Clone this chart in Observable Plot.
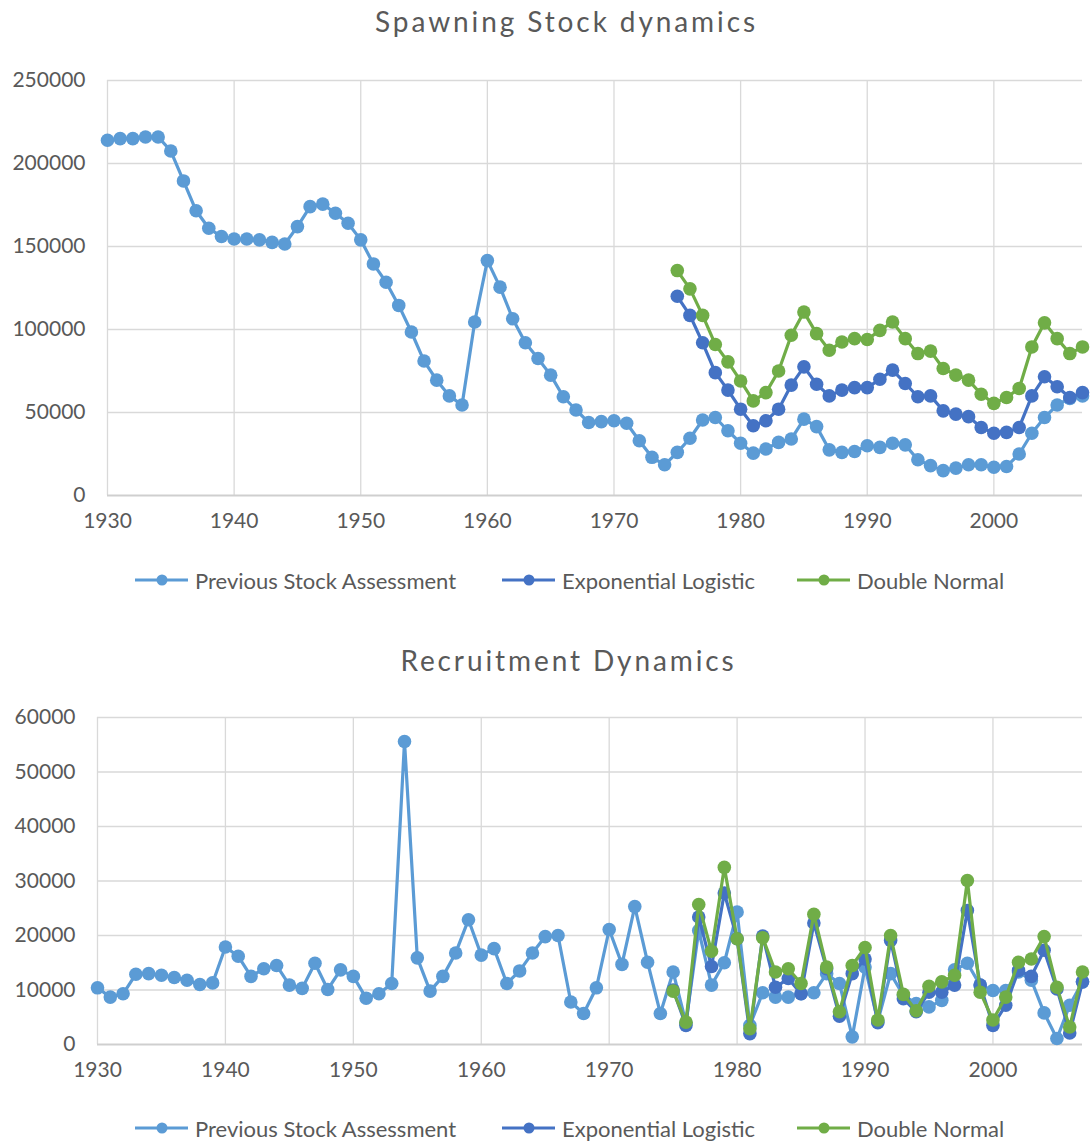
<!DOCTYPE html>
<html>
<head>
<meta charset="utf-8">
<script src="https://cdn.jsdelivr.net/npm/d3@7"></script>
<script src="https://cdn.jsdelivr.net/npm/@observablehq/plot@0.6"></script>
<style>
  html, body { margin: 0; padding: 0; background: #fff; }
  body { width: 1091px; height: 1144px; position: relative; font-family: Lato, "Open Sans", sans-serif; color: #595959; overflow: hidden; }
  .title { position: absolute; left: 0; width: 1091px; text-align: center; font-size: 28px; letter-spacing: 2.9px; white-space: nowrap; box-sizing: border-box; }
  .chart { position: absolute; left: 0; }
  .leg { position: absolute; display: flex; align-items: center; font-size: 22px; white-space: nowrap; }
  .leg svg { margin-right: 7px; }
</style>
</head>
<body>
<div class="title" id="t1" style="top:4px; padding-left:42px;">Spawning Stock dynamics</div>
<div class="chart" id="c1" style="top:50px;"></div>
<div class="title" id="t2" style="top:643px; padding-left:46px;">Recruitment Dynamics</div>
<div class="chart" id="c2" style="top:690px;"></div>
<script>
// ---------- data ----------
const seriesNames = ["Previous Stock Assessment", "Exponential Logistic", "Double Normal"];
const seriesColors = ["#5B9BD5", "#4472C4", "#70AD47"];

const prevYears = d3.range(1930, 2008);
const modelYears = d3.range(1975, 2008);
const xTicks = [1930, 1940, 1950, 1960, 1970, 1980, 1990, 2000];

// Spawning stock
const ssbPrev = [214000,215000,215000,216000,216000,207500,189500,171500,161000,156000,
  154500,154500,154000,152500,151500,162000,174000,175500,170000,164000,
  154000,139500,128500,114500,98500,81000,69500,60000,54500,104500,
  141500,125500,106500,92000,82500,72500,59500,51500,44000,44500,
  45000,43500,33000,23000,18500,26000,34500,45500,47000,39000,
  31500,25500,28000,32000,34000,46000,41500,27500,26000,26500,
  30000,29000,31500,30500,21500,18000,15000,16500,18500,18500,
  17000,17500,25000,37500,47000,54500,58500,60000];
const ssbExpo = [120000,108500,92000,74000,63500,52000,42000,45000,52000,66500,
  77500,67000,60000,63500,65000,65000,70000,75500,67500,59500,
  60000,51000,49000,47500,41000,37500,38000,41000,60000,71500,
  65500,59000,62000];
const ssbDouble = [135500,124500,108500,91000,80500,69000,57000,62000,75000,96500,
  110500,97500,87500,92500,94500,94000,99500,104500,94500,85500,
  87000,76500,72500,69500,61000,55500,59000,64500,89500,104000,
  94500,85500,89500];
const ssbTicks = [0, 50000, 100000, 150000, 200000, 250000];

// Recruitment
const recPrev = [10400,8700,9300,12900,13000,12700,12300,11800,11000,11300,
  17900,16200,12500,13900,14500,10900,10300,14900,10100,13700,
  12500,8500,9300,11200,55600,15900,9800,12500,16800,22900,
  16400,17600,11200,13500,16800,19800,20000,7800,5700,10400,
  21100,14700,25300,15100,5700,13300,4000,20900,10900,15000,
  24300,3500,9500,8700,8700,9300,9500,13000,11200,1400,
  14200,4300,13000,9000,7500,6900,8100,13700,14900,10900,
  9900,9900,13300,11800,5800,1100,7200,11500];
const recExpo = [10000,3500,23400,14300,27800,19400,2000,19900,10500,12100,
  9300,22300,13900,5200,13000,15700,4000,19100,8400,6000,
  9600,9600,10900,24600,10900,3500,7200,13600,12500,17300,
  10200,2100,11500];
const recDouble = [9800,4100,25700,17100,32500,19400,2900,19600,13300,13900,
  11200,23900,14200,6000,14500,17800,4500,20000,9200,6200,
  10700,11500,12700,30100,9600,4500,8700,15100,15700,19800,
  10500,3200,13300];
const recTicks = [0, 10000, 20000, 30000, 40000, 50000, 60000];

// ---------- build ----------
function toRows(years, values) { return years.map((year, i) => ({year, value: values[i]})); }

function makeChart({series, yTicks, height, marginLeft, marginTop, marginBottom}) {
  const marks = [
    Plot.gridX(xTicks, {stroke: "#d9d9d9", strokeOpacity: 1, strokeWidth: 1.3}),
    Plot.gridY(yTicks.slice(1), {stroke: "#d9d9d9", strokeOpacity: 1, strokeWidth: 1.3}),
    Plot.ruleY([0], {stroke: "#cfcfcf", strokeWidth: 1.8}),
    Plot.axisX({ticks: xTicks, tickSize: 0, tickPadding: 18, tickFormat: d3.format("d"), fontSize: 21, label: null}),
    Plot.axisY({ticks: yTicks, tickSize: 0, tickPadding: 22, tickFormat: d3.format("d"), fontSize: 21, label: null})
  ];
  series.forEach((s, i) => {
    const rows = toRows(s.years, s.values);
    marks.push(Plot.line(rows, {x: "year", y: "value", stroke: seriesColors[i], strokeWidth: 3.2}));
    marks.push(Plot.dot(rows, {x: "year", y: "value", r: 6.8, fill: seriesColors[i], stroke: "none"}));
  });
  return Plot.plot({
    width: 1091, height, marginLeft, marginRight: 9, marginTop, marginBottom,
    style: {fontFamily: "Lato, 'Open Sans', sans-serif", fontSize: "21px", color: "#595959", background: "#fff", overflow: "visible"},
    x: {domain: [1930, 2007], axis: null, label: null},
    y: {domain: [yTicks[0], yTicks[yTicks.length - 1]], axis: null, label: null},
    marks
  });
}

document.getElementById("c1").appendChild(makeChart({
  series: [{years: prevYears, values: ssbPrev}, {years: modelYears, values: ssbExpo}, {years: modelYears, values: ssbDouble}],
  yTicks: ssbTicks, height: 500, marginLeft: 107, marginTop: 30, marginBottom: 55
}));
document.getElementById("c2").appendChild(makeChart({
  series: [{years: prevYears, values: recPrev}, {years: modelYears, values: recExpo}, {years: modelYears, values: recDouble}],
  yTicks: recTicks, height: 410, marginLeft: 97, marginTop: 27, marginBottom: 56
}));

// legends
const legendLefts = [135, 502, 797];
function addLegend(centerY) {
  seriesNames.forEach((name, i) => {
    const div = document.createElement("div");
    div.className = "leg";
    div.style.left = legendLefts[i] + "px";
    div.style.top = (centerY - 16) + "px";
    div.style.height = "32px";
    div.innerHTML = `<svg width="53" height="16"><line x1="0" y1="8" x2="53" y2="8" stroke="${seriesColors[i]}" stroke-width="3"/><circle cx="27" cy="8" r="5.5" fill="${seriesColors[i]}"/></svg><span>${name}</span>`;
    document.body.appendChild(div);
  });
}
addLegend(580);
addLegend(1128);
</script>
</body>
</html>
